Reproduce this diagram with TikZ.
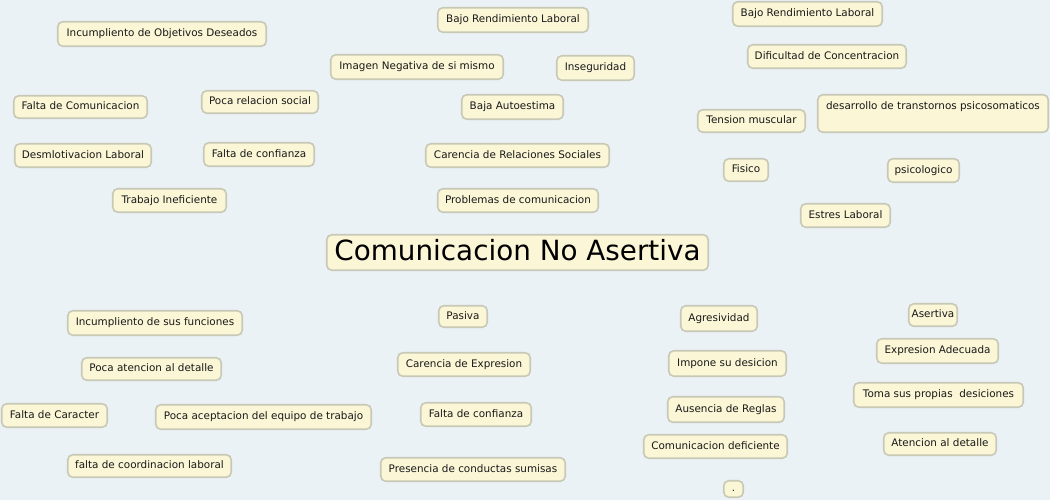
\documentclass[tikz,border=0pt]{standalone}
\usepackage{fontspec}
\setmainfont{DejaVu Sans}
\definecolor{bgc}{RGB}{235,242,246}
\definecolor{boxfill}{RGB}{250,246,214}
\definecolor{boxline}{RGB}{200,200,182}
\definecolor{txt}{RGB}{25,25,25}
\tikzset{
  box/.style={draw=boxline, fill=boxfill, rounded corners=5pt, line width=1.6pt,
    inner sep=0pt, text=txt, font=\fontsize{10.4}{12}\selectfont,
    text height=7.8pt, text depth=2.2pt},
  titlebox/.style={box, font=\fontsize{27.8}{32}\selectfont, text=black,
    text height=20.5pt, text depth=5.5pt},
  sz/.style 2 args={minimum width=#1pt, minimum height=#2pt}
}
\begin{document}
\begin{tikzpicture}[x=1pt,y=-1pt]
\fill[bgc] (0,0) rectangle (1050,500);
\useasboundingbox (0,0) rectangle (1050,500);
% top left
\node[box,sz={208.5}{24.5}] (n1) at (162,34) {Incumpliento de Objetivos Deseados};
\node[box,sz={133.5}{22.5}] (n2) at (80.5,107) {Falta de Comunicacion};
\node[box,sz={116.5}{22.5}] (n3) at (260,102) {Poca relacion social};
\node[box,sz={136.5}{23.5}] (n4) at (83,155.5) {Desmlotivacion Laboral};
\node[box,sz={110.5}{23.5}] (n5) at (259,154.5) {Falta de confianza};
\node[box,sz={113.5}{23.5}] (n6) at (169.5,200.5) {Trabajo Ineficiente};
% top middle
\node[box,sz={150.5}{24.5}] (n7) at (513,20) {Bajo Rendimiento Laboral};
\node[box,sz={172.5}{24.5}] (n8) at (417,67) {Imagen Negativa de si mismo};
\node[box,sz={77.5}{24.5}] (n9) at (595.5,68) {Inseguridad};
\node[box,sz={101.5}{24.5}] (n10) at (512.5,107) {Baja Autoestima};
\node[box,sz={183.5}{23.5}] (n11) at (517.5,155.5) {Carencia de Relaciones Sociales};
\node[box,sz={160.5}{23.5}] (n12) at (518,200.5) {Problemas de comunicacion};
% top right
\node[box,sz={149.5}{24.5}] (n13) at (807.5,14) {Bajo Rendimiento Laboral};
\node[box,sz={158.5}{23.5}] (n14) at (827,56.5) {Dificultad de Concentracion};
\node[box,sz={230.5}{37.5},text height=0pt,text depth=0pt] (n15) at (933,113.5) {\raisebox{4pt}[0pt][0pt]{desarrollo de transtornos psicosomaticos}};
\node[box,sz={107.5}{22.5}] (n16) at (751.5,121) {Tension muscular};
\node[box,sz={44.5}{22.5}] (n17) at (746,170) {Fisico};
\node[box,sz={71.5}{23.5}] (n18) at (923.5,170.5) {psicologico};
\node[box,sz={89.5}{23.5}] (n19) at (845.5,215.5) {Estres Laboral};
% title
\node[titlebox,sz={381.5}{35.5}] (title) at (517.5,252.5) {Comunicacion No Asertiva};
% bottom left
\node[box,sz={174.5}{24.5}] (n20) at (155,323) {Incumpliento de sus funciones};
\node[box,sz={139.5}{22.5}] (n21) at (151.5,369) {Poca atencion al detalle};
\node[box,sz={105.5}{23.5}] (n22) at (54.5,415.5) {Falta de Caracter};
\node[box,sz={215.5}{24.5}] (n23) at (263.5,417) {Poca aceptacion del equipo de trabajo};
\node[box,sz={163.5}{22.5}] (n24) at (149.5,466) {falta de coordinacion laboral};
% bottom middle
\node[box,sz={48.5}{21.5}] (n25) at (463,316.5) {Pasiva};
\node[box,sz={132.5}{23.5}] (n26) at (464,364.5) {Carencia de Expresion};
\node[box,sz={110.5}{23.5}] (n27) at (476,414.5) {Falta de confianza};
\node[box,sz={184.5}{23.5}] (n28) at (473,469.5) {Presencia de conductas sumisas};
% bottom right-middle
\node[box,sz={76.5}{25.5}] (n29) at (719,318.5) {Agresividad};
\node[box,sz={117.5}{25.5}] (n30) at (727.5,363.5) {Impone su desicion};
\node[box,sz={116.5}{25.5}] (n31) at (726,409.5) {Ausencia de Reglas};
\node[box,sz={143.5}{23.5}] (n32) at (715.5,446.5) {Comunicacion deficiente};
\node[box,sz={19.5}{16.5}] (n33) at (733.5,489) {.};
% bottom right
\node[box,sz={48.5}{22.5}] (n34) at (933,315) {Asertiva};
\node[box,sz={121.5}{24.5}] (n35) at (937.5,351) {Expresion Adecuada};
\node[box,sz={169.5}{24.5}] (n36) at (938.5,395) {Toma sus propias\ \ desiciones};
\node[box,sz={112.5}{22.5}] (n37) at (940,444) {Atencion al detalle};
\end{tikzpicture}
\end{document}
